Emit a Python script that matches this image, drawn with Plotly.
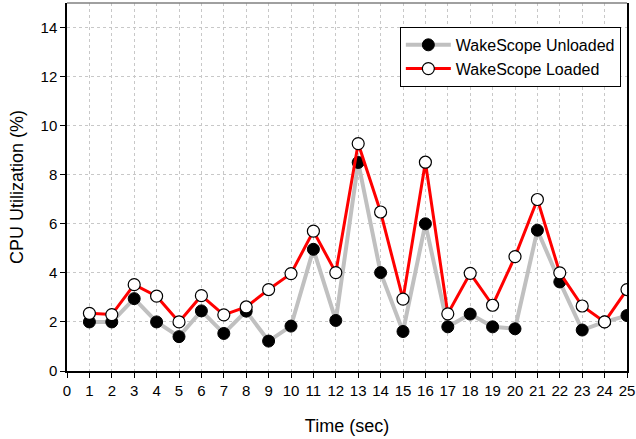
import plotly.graph_objects as go

time_sec = list(range(1, 26))
unloaded = [2.0, 2.0, 2.95, 2.0, 1.4, 2.45, 1.53, 2.44, 1.22, 1.83, 4.96, 2.06, 8.5,
            4.01, 1.61, 6.0, 1.8, 2.32, 1.8, 1.72, 5.74, 3.63, 1.67, 2.0, 2.26]
loaded = [2.35, 2.3, 3.52, 3.05, 2.0, 3.07, 2.29, 2.61, 3.32, 3.97, 5.7, 4.01, 9.27,
          6.48, 2.93, 8.51, 2.33, 3.98, 2.68, 4.66, 6.99, 4.0, 2.65, 2.0, 3.32]
x_ticks = list(range(0, 26))
y_ticks = list(range(0, 15, 2))

fig = go.Figure()
fig.add_trace(go.Scatter(
    x=time_sec, y=unloaded, mode="lines+markers", name="WakeScope Unloaded",
    line=dict(color="#c0c0c0", width=4),
    marker=dict(color="black", size=12, line=dict(color="black", width=1)),
))
fig.add_trace(go.Scatter(
    x=time_sec, y=loaded, mode="lines+markers", name="WakeScope Loaded",
    line=dict(color="#ff0000", width=3),
    marker=dict(color="white", size=12, line=dict(color="black", width=1.2)),
))

fig.update_layout(
    width=636, height=439,
    margin=dict(l=67, r=9, t=3, b=68, autoexpand=False),
    paper_bgcolor="white", plot_bgcolor="white",
    font=dict(family="Liberation Sans, Arial, sans-serif", size=15, color="black"),
    showlegend=True,
    legend=dict(
        x=0.989, y=0.935, xanchor="right", yanchor="top",
        bgcolor="white", bordercolor="black", borderwidth=1,
        font=dict(size=16), tracegroupgap=0, itemwidth=45,
    ),
    xaxis=dict(
        range=[0, 25], tickmode="array", tickvals=x_ticks,
        ticktext=[str(v) for v in x_ticks], automargin=False,
        showline=True, linecolor="black", linewidth=1.5,
        ticks="outside", ticklen=5, tickcolor="black",
        showgrid=True, gridcolor="#c8c8c8", griddash="dot", gridwidth=1,
        zeroline=False,
        title=dict(text="Time (sec)", font=dict(size=18), standoff=22),
    ),
    yaxis=dict(
        range=[0, 15], tickmode="array", tickvals=y_ticks,
        ticktext=[str(v) for v in y_ticks], automargin=False,
        showline=True, linecolor="black", linewidth=1.5, mirror=True,
        ticks="outside", ticklen=5, tickcolor="black",
        showgrid=True, gridcolor="#c8c8c8", griddash="dot", gridwidth=1,
        zeroline=False,
        title=dict(text="CPU Utilization (%)", font=dict(size=18), standoff=12),
    ),
    shapes=[dict(type="line", xref="paper", yref="paper", x0=0, x1=1, y0=1, y1=1,
                 line=dict(color="#808080", width=1.5))],
)

fig.write_html("out.html", config={"displayModeBar": False},
               post_script="document.body.style.margin='0';")
